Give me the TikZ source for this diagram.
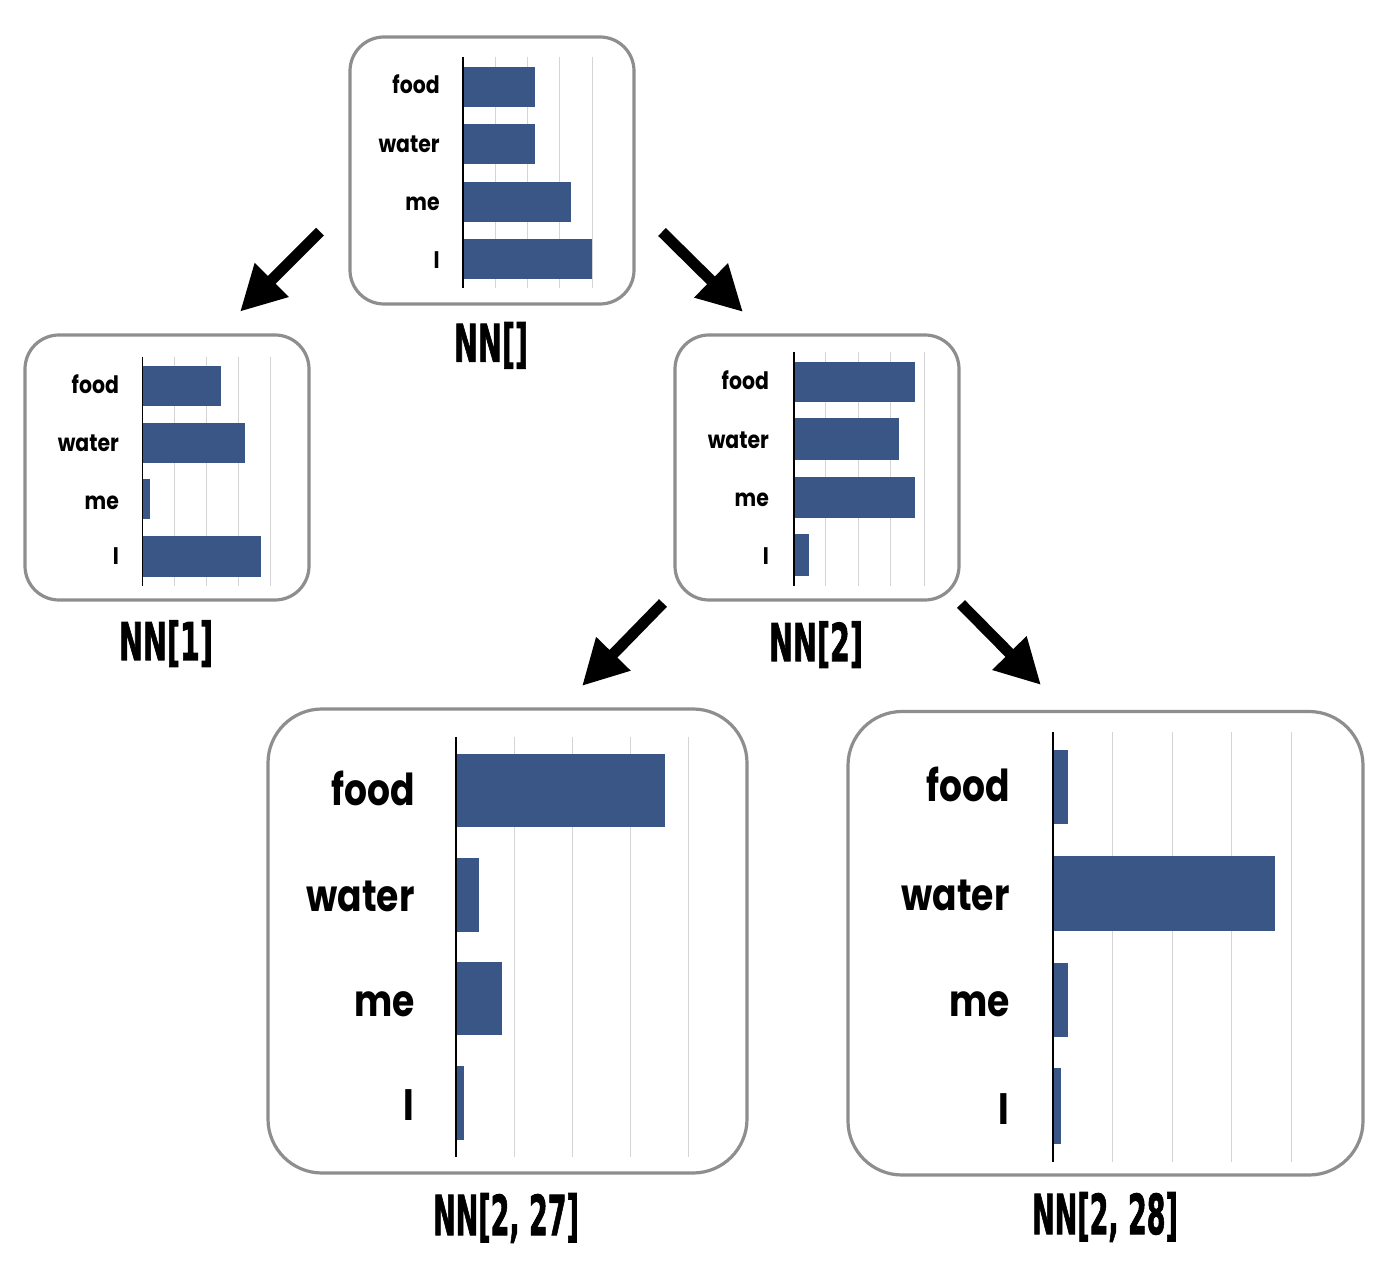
\documentclass[tikz,border=0pt]{standalone}
\usepackage{fontspec}
\usepackage{graphicx}
\setmainfont{Poppins}
\newfontfamily\nnfont{DejaVu Sans}[BoldFeatures={FakeBold=2}]
\usetikzlibrary{arrows.meta}
\definecolor{barblue}{HTML}{3A5687}
\definecolor{boxgray}{HTML}{8E8E8E}
\definecolor{gridgray}{HTML}{D4D4D4}
\newcommand\sq[2]{\scalebox{#1}[1]{#2}}
\tikzset{
  chartbox/.style={draw=boxgray, line width=1.6pt, inner sep=0pt},
  gridline/.style={draw=gridgray, line width=0.5pt},
  axisline/.style={draw=black, line width=0.8pt},
  barfill/.style={fill=barblue},
  smalllab/.style={font=\bfseries\fontsize{12}{12}\selectfont, inner sep=0pt, anchor=base east},
  biglab/.style={font=\bfseries\fontsize{22}{22}\selectfont, inner sep=0pt, anchor=base east},
  nnlab/.style={font=\nnfont\bfseries\fontsize{26}{26}\selectfont, inner sep=0pt, anchor=base},
  nnbig/.style={font=\nnfont\bfseries\fontsize{27.5}{27.5}\selectfont, inner sep=0pt, anchor=base},
  bigarrow/.style={-{Triangle[length=22.5pt,width=22.5pt]}, line width=5.5pt, black},
}
\begin{document}
\begin{tikzpicture}[x=0.5pt,y=-0.5pt]
\useasboundingbox (0,0) rectangle (1388,1272);
\fill[white] (0,0) rectangle (1388,1272);

% ---------- Chart A : NN[] ----------
\node[chartbox, minimum width=142pt, minimum height=133.5pt, rounded corners=17pt] (boxA) at (492,170.5) {};
\foreach \x in {495.3,527.6,559.9,592.2} \draw[gridline] (\x,57) -- (\x,288);
\foreach \ya/\yb/\xe in {67/107/535, 124/164/535, 182/222/571, 239/279/592}
  \fill[barfill] (463,\ya) rectangle (\xe,\yb);
\draw[axisline] (463,57) -- (463,288);
\foreach \t/\yy [count=\i] in {food/94, water/152.7, me/210.7, I/268.3}
  \node[smalllab] (A\i) at (440,\yy) {\sq{0.85}{\t}};
\node[nnlab] (nnA) at (491,361.7) {\sq{0.55}{NN[]}};

% ---------- Chart B : NN[1] ----------
\node[chartbox, minimum width=142pt, minimum height=132.5pt, rounded corners=17pt] (boxB) at (167,467.5) {};
\foreach \x in {174,206,238,270} \draw[gridline] (\x,357) -- (\x,586);
\foreach \ya/\yb/\xe in {366/406/221, 423/463/245, 479/519/150, 536/577/261}
  \fill[barfill] (142.3,\ya) rectangle (\xe,\yb);
\draw[axisline] (142.3,357) -- (142.3,586);
\foreach \t/\yy [count=\i] in {food/393.3, water/451.7, me/509.3, I/565}
  \node[smalllab] (B\i) at (119.3,\yy) {\sq{0.85}{\t}};
\node[nnlab] (nnB) at (166,660) {\sq{0.55}{NN[1]}};

% ---------- Chart C : NN[2] ----------
\node[chartbox, minimum width=142pt, minimum height=132.5pt, rounded corners=17pt] (boxC) at (817,467.5) {};
\foreach \x in {825.7,858.3,890.7,924} \draw[gridline] (\x,352) -- (\x,586);
\foreach \ya/\yb/\xe in {362/402/915, 418/460/899, 477/518/915, 534/576/809}
  \fill[barfill] (793.7,\ya) rectangle (\xe,\yb);
\draw[axisline] (793.7,352) -- (793.7,586);
\foreach \t/\yy [count=\i] in {food/390, water/448.3, me/506.7, I/565}
  \node[smalllab] (C\i) at (769.3,\yy) {\sq{0.85}{\t}};
\node[nnlab] (nnC) at (816,661) {\sq{0.55}{NN[2]}};

% ---------- Chart D : NN[2, 27] ----------
\node[chartbox, minimum width=239.5pt, minimum height=232pt, rounded corners=27pt] (boxD) at (507.5,941) {};
\foreach \x in {514,572.3,630,688.3} \draw[gridline] (\x,737) -- (\x,1157);
\foreach \ya/\yb/\xe in {754/827/665, 858/932/479, 962/1035/502, 1066/1140/464}
  \fill[barfill] (456,\ya) rectangle (\xe,\yb);
\draw[axisline, line width=1pt] (456,737) -- (456,1157);
\foreach \t/\yy [count=\i] in {food/806, water/911.7, me/1016, I/1120.7}
  \node[biglab] (D\i) at (415,\yy) {\sq{0.82}{\t}};
\node[nnbig] (nnD) at (506,1235) {\sq{0.49}{NN[2, 27]}};

% ---------- Chart E : NN[2, 28] ----------
\node[chartbox, minimum width=257.5pt, minimum height=231.75pt, rounded corners=27pt] (boxE) at (1105.5,943.25) {};
\foreach \x in {1112.3,1172.3,1231.7,1291.7} \draw[gridline] (\x,732) -- (\x,1162);
\foreach \ya/\yb/\xe in {750/824/1068, 856/931/1275, 963/1037/1068, 1068/1144/1061}
  \fill[barfill] (1053.3,\ya) rectangle (\xe,\yb);
\draw[axisline, line width=1pt] (1053.3,732) -- (1053.3,1162);
\foreach \t/\yy [count=\i] in {food/801.7, water/910, me/1016.7, I/1124}
  \node[biglab] (E\i) at (1010,\yy) {\sq{0.82}{\t}};
\node[nnbig] (nnE) at (1105,1234) {\sq{0.49}{NN[2, 28]}};

% ---------- Arrows ----------
\coordinate (a1s) at (320,231.7);  \coordinate (a1e) at (240,311.7);
\coordinate (a2s) at (662,232);    \coordinate (a2e) at (743,312);
\coordinate (a3s) at (663,603);    \coordinate (a3e) at (582,686);
\coordinate (a4s) at (961,604);    \coordinate (a4e) at (1041,685);
\draw[bigarrow] (a1s) -- (a1e);
\draw[bigarrow] (a2s) -- (a2e);
\draw[bigarrow] (a3s) -- (a3e);
\draw[bigarrow] (a4s) -- (a4e);
\end{tikzpicture}
\end{document}
